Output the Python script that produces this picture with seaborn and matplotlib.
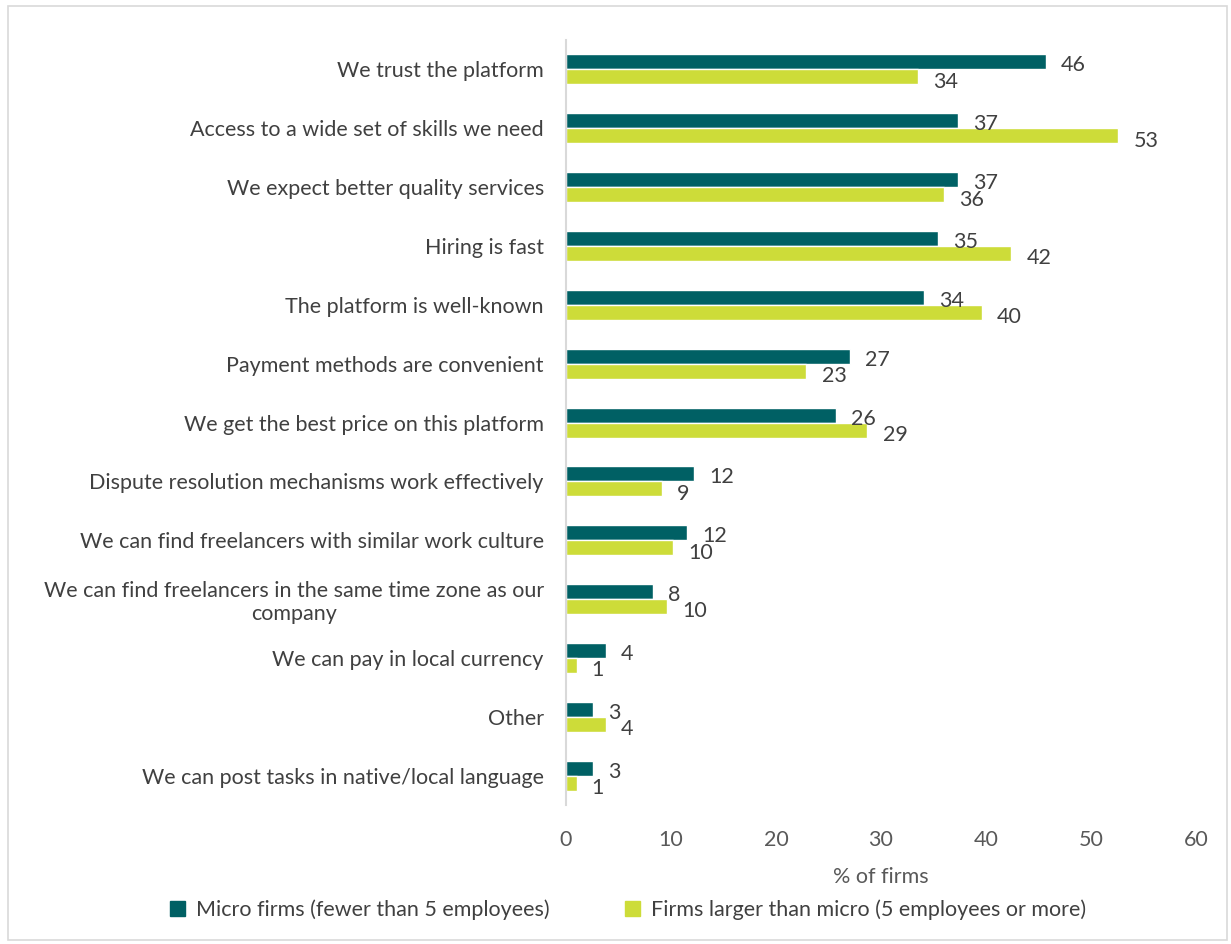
import matplotlib
matplotlib.use("Agg")
import matplotlib.pyplot as plt
import seaborn as sns
import pandas as pd
from matplotlib.patches import Patch, Rectangle

reasons = [
    "We trust the platform",
    "Access to a wide set of skills we need",
    "We expect better quality services",
    "Hiring is fast",
    "The platform is well-known",
    "Payment methods are convenient",
    "We get the best price on this platform",
    "Dispute resolution mechanisms work effectively",
    "We can find freelancers with similar work culture",
    "We can find freelancers in the same time zone as our\ncompany",
    "We can pay in local currency",
    "Other",
    "We can post tasks in native/local language",
]
micro = [45.7, 37.3, 37.3, 35.4, 34.1, 27.0, 25.7, 12.2, 11.5, 8.3, 3.8, 2.6, 2.6]
larger = [33.5, 52.6, 36.0, 42.4, 39.6, 22.9, 28.7, 9.1, 10.2, 9.6, 1.0, 3.8, 1.0]
series = ["Micro firms (fewer than 5 employees)",
          "Firms larger than micro (5 employees or more)"]
colors = ["#006064", "#CDDC39"]

df = pd.DataFrame({
    "reason": reasons * 2,
    "value": micro + larger,
    "group": [series[0]] * len(reasons) + [series[1]] * len(reasons),
})

sns.set_theme(style="white")
plt.rcParams["font.family"] = ["Lato", "DejaVu Sans"]

FS = 15.5

fig = plt.figure(figsize=(12.31, 9.44), dpi=100)
ax = fig.add_axes([0.4598, 0.1472, 0.5118, 0.8104])

sns.barplot(data=df, y="reason", x="value", hue="group", orient="h",
            palette=colors, width=0.51, ax=ax, legend=False, saturation=1)

for i, cont in enumerate(ax.containers):
    labels = [f"{b.get_width():.0f}" for b in cont]
    anns = ax.bar_label(cont, labels=labels, padding=11, fontsize=FS, color="#404040")
    for a in anns:
        a.xyann = (11, -2.5 if i == 0 else -3.5)

ax.set_xlim(0, 60)
ax.set_xticks([0, 10, 20, 30, 40, 50, 60])
ax.set_ylabel("")
ax.set_xlabel("% of firms", fontsize=FS, color="#595959", labelpad=12)
ax.tick_params(axis="x", labelsize=FS, colors="#595959", length=0, pad=18)
ax.tick_params(axis="y", labelsize=FS, colors="#404040", length=0, pad=16)
for lab in ax.get_yticklabels():
    lab.set_multialignment("center")
for s in ["top", "right", "bottom"]:
    ax.spines[s].set_visible(False)
ax.spines["left"].set_color("#d9d9d9")
ax.spines["left"].set_linewidth(1.5)
ax.grid(False)

handles = [Patch(facecolor=c, edgecolor=c) for c in colors]
fig.legend(handles, series, loc="center", bbox_to_anchor=(0.51, 0.036), ncol=2,
           frameon=False, fontsize=FS, handlelength=0.7, handleheight=0.7,
           columnspacing=3.5, handletextpad=0.5, labelcolor="#404040")

fig.patches.append(Rectangle((0.0065, 0.004), 0.99, 0.99, transform=fig.transFigure,
                             fill=False, edgecolor="#d9d9d9", linewidth=1.2))

fig.savefig("out.png", dpi=100)
